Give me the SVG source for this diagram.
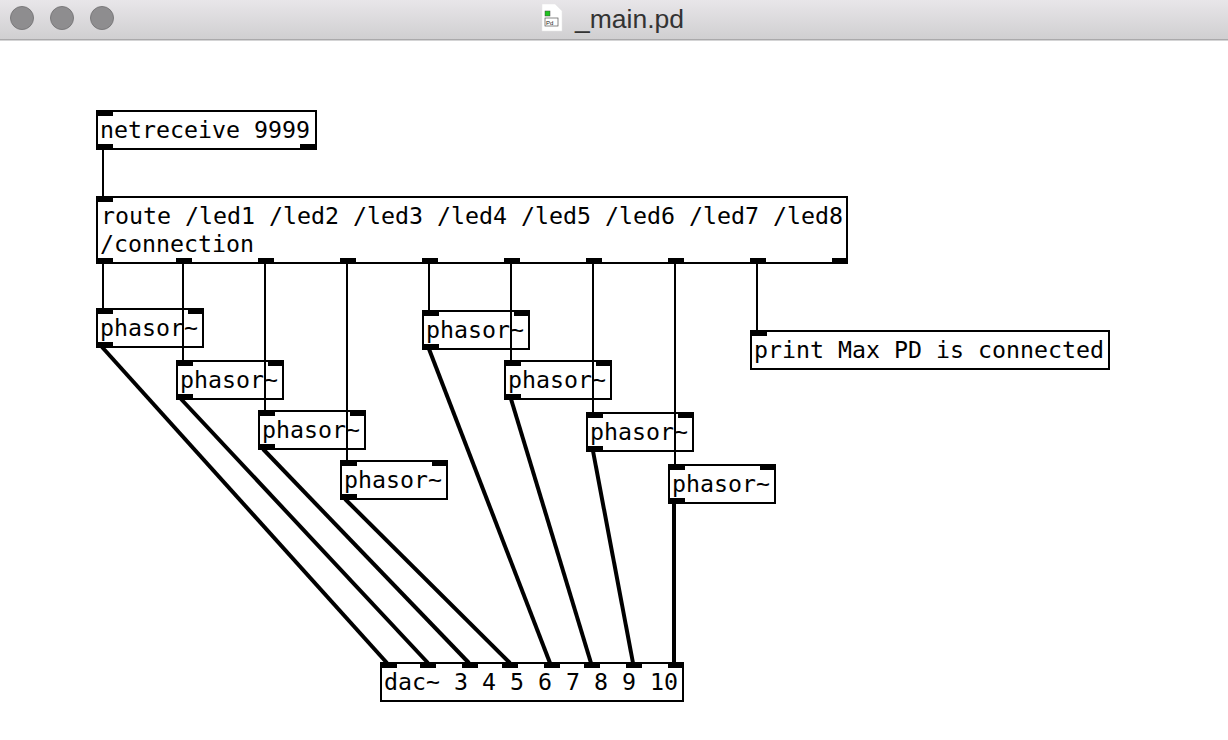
<svg xmlns="http://www.w3.org/2000/svg" width="1228" height="740" viewBox="0 0 1228 740">
<style>
.box{fill:#fff;stroke:#000;stroke-width:2}
.io{fill:#000}
.t{font-family:"DejaVu Sans Mono",monospace;font-size:23.25px;fill:#000}
.c{stroke:#000;stroke-width:2;fill:none}
.s{stroke:#000;stroke-width:4;fill:none}
.light{fill:#8e8d8f;stroke:#7a797b;stroke-width:1}
</style>
<defs>
<linearGradient id="bar" x1="0" y1="0" x2="0" y2="1"><stop offset="0" stop-color="#e8e6e9"/><stop offset="1" stop-color="#d0cfd1"/></linearGradient>
<rect id="p" width="16" height="5" class="io"/>
</defs>
<rect width="1228" height="740" fill="#fff"/>
<g id="titlebar">
<rect width="1228" height="39" fill="url(#bar)"/>
<rect y="39" width="1228" height="1.5" fill="#aaa9ab"/>
<ellipse class="light" cx="22" cy="18" rx="11.5" ry="11.5"/>
<ellipse class="light" cx="62" cy="18" rx="11.5" ry="11.5"/>
<ellipse class="light" cx="102" cy="18" rx="11.5" ry="11.5"/>
<path d="M542 4H555L562 11V31H542Z" fill="#fff" stroke="#e6e6e6" stroke-width=".5"/>
<rect x="545" y="11" width="5" height="5" fill="#1fc41f" stroke="#444" stroke-width=".5"/>
<rect x="545" y="18" width="13" height="8" fill="#fff" stroke="#555" stroke-width=".7"/>
<text x="546" y="24.5" font-family="'Liberation Sans',sans-serif" font-size="6" fill="#222">Pd</text>
<text x="575" y="27.5" font-family="'Liberation Sans',sans-serif" font-size="26.5" fill="#333">_main.pd</text>
</g>
<g id="netreceive"><rect class="box" x="97" y="111" width="219" height="38"/><use href="#p" x="97" y="111"/><use href="#p" x="97" y="144"/><use href="#p" x="300" y="144"/><text class="t" x="100" y="138">netreceive 9999</text></g>
<g id="route"><rect class="box" x="97" y="197" width="750" height="66"/><use href="#p" x="97" y="197"/><use href="#p" x="97" y="258"/><use href="#p" x="176" y="258"/><use href="#p" x="258" y="258"/><use href="#p" x="340" y="258"/><use href="#p" x="422" y="258"/><use href="#p" x="504" y="258"/><use href="#p" x="586" y="258"/><use href="#p" x="668" y="258"/><use href="#p" x="750" y="258"/><use href="#p" x="832" y="258"/><text class="t" x="101" y="224">route /led1 /led2 /led3 /led4 /led5 /led6 /led7 /led8</text><text class="t" x="100" y="252">/connection</text></g>
<g id="phasor1"><rect class="box" x="97" y="309" width="106" height="38"/><use href="#p" x="97" y="309"/><use href="#p" x="188" y="309"/><use href="#p" x="97" y="342"/><text class="t" x="100" y="336">phasor~</text></g>
<g id="phasor2"><rect class="box" x="177" y="361" width="106" height="38"/><use href="#p" x="177" y="361"/><use href="#p" x="268" y="361"/><use href="#p" x="177" y="394"/><text class="t" x="180" y="388">phasor~</text></g>
<g id="phasor3"><rect class="box" x="259" y="411" width="106" height="38"/><use href="#p" x="259" y="411"/><use href="#p" x="350" y="411"/><use href="#p" x="259" y="444"/><text class="t" x="262" y="438">phasor~</text></g>
<g id="phasor4"><rect class="box" x="341" y="461" width="106" height="38"/><use href="#p" x="341" y="461"/><use href="#p" x="432" y="461"/><use href="#p" x="341" y="494"/><text class="t" x="344" y="488">phasor~</text></g>
<g id="phasor5"><rect class="box" x="423" y="311" width="106" height="38"/><use href="#p" x="423" y="311"/><use href="#p" x="514" y="311"/><use href="#p" x="423" y="344"/><text class="t" x="426" y="338">phasor~</text></g>
<g id="phasor6"><rect class="box" x="505" y="361" width="106" height="38"/><use href="#p" x="505" y="361"/><use href="#p" x="596" y="361"/><use href="#p" x="505" y="394"/><text class="t" x="508" y="388">phasor~</text></g>
<g id="phasor7"><rect class="box" x="587" y="413" width="106" height="38"/><use href="#p" x="587" y="413"/><use href="#p" x="678" y="413"/><use href="#p" x="587" y="446"/><text class="t" x="590" y="440">phasor~</text></g>
<g id="phasor8"><rect class="box" x="669" y="465" width="106" height="38"/><use href="#p" x="669" y="465"/><use href="#p" x="760" y="465"/><use href="#p" x="669" y="498"/><text class="t" x="672" y="492">phasor~</text></g>
<g id="print"><rect class="box" x="751" y="331" width="358" height="38"/><use href="#p" x="751" y="331"/><text class="t" x="754" y="358">print Max PD is connected</text></g>
<g id="dac"><rect class="box" x="381" y="663" width="302" height="38"/><use href="#p" x="381" y="663"/><use href="#p" x="420" y="663"/><use href="#p" x="462" y="663"/><use href="#p" x="502" y="663"/><use href="#p" x="544" y="663"/><use href="#p" x="584" y="663"/><use href="#p" x="626" y="663"/><use href="#p" x="668" y="663"/><text class="t" x="384" y="690">dac~ 3 4 5 6 7 8 9 10</text></g>
<g id="connectors">
<path class="c" d="M103 149V197"/>
<path class="c" d="M103 263V309"/>
<path class="c" d="M183 263V361"/>
<path class="c" d="M265 263V411"/>
<path class="c" d="M347 263V461"/>
<path class="c" d="M429 263V311"/>
<path class="c" d="M511 263V361"/>
<path class="c" d="M593 263V413"/>
<path class="c" d="M675 263V465"/>
<path class="c" d="M757 263V331"/>
<path class="s" d="M102 347L387 663"/>
<path class="s" d="M181 399L428 663"/>
<path class="s" d="M263 449L469 663"/>
<path class="s" d="M345 499L510 663"/>
<path class="s" d="M429 349L550 663"/>
<path class="s" d="M511 399L591 663"/>
<path class="s" d="M593 451L633 663"/>
<path class="s" d="M674 503V663"/>
</g>
</svg>
